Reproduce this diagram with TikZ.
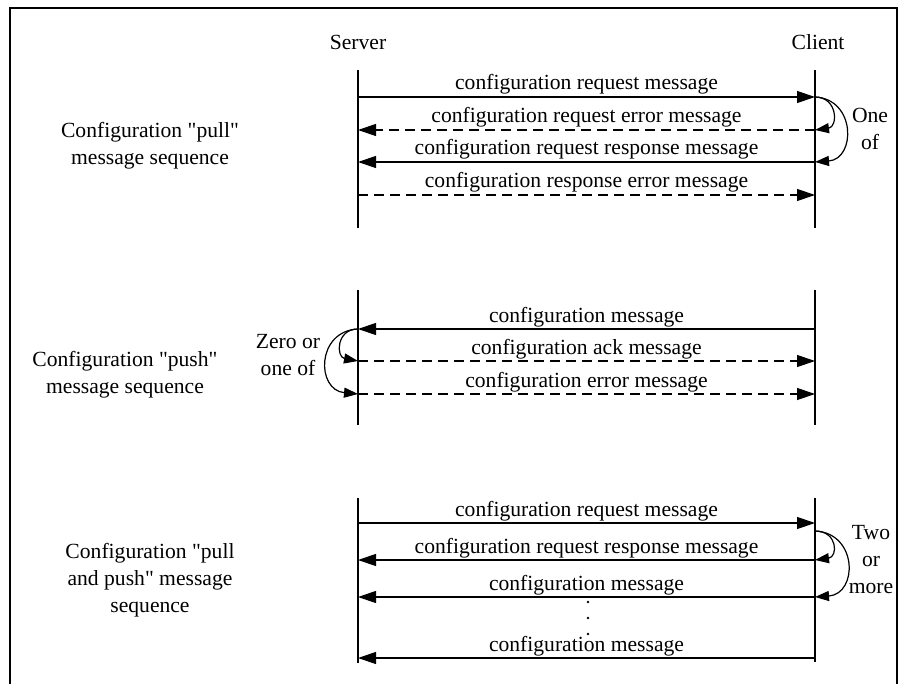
\documentclass[tikz,border=0pt]{standalone}
\usepackage{fontspec}
\setmainfont{Liberation Serif}
\usetikzlibrary{arrows.meta}
\tikzstyle{none}=[inner sep=0pt]
\tikzstyle{frame}=[line width=1.8pt]
\tikzstyle{life}=[line width=1.2pt]
\tikzstyle{msg}=[line width=1.2pt,-{Triangle[length=18pt,width=12pt]}]
\tikzstyle{rsp}=[msg,dash pattern=on 10pt off 6pt]
\tikzstyle{curl}=[line width=1.2pt,-{Triangle[length=14pt,width=10pt]}]
\tikzstyle{lbl}=[midway,anchor=base,yshift=7pt,inner sep=0pt]
\tikzstyle{txt}=[align=center,anchor=base,inner sep=0pt]
\tikzstyle{dot}=[circle,fill=black,inner sep=0pt,minimum size=2.6pt]
\newcommand{\qq}{\textquotedbl}

\begin{document}
\begin{tikzpicture}[x=1pt, y=-1pt, every node/.style={font=\fontsize{21.6}{27}\selectfont}]
            \useasboundingbox (0,0) rectangle (901,684);
            % frame
            \node [style=none] (0) at (10, 684) {};
            \node [style=none] (1) at (10, 8) {};
            \node [style=none] (2) at (897, 8) {};
            \node [style=none] (3) at (897, 684) {};
            \draw [style=frame] (0.center) to (1.center) to (2.center) to (3.center);
            \node [style=txt] (4) at (358, 50) {Server};
            \node [style=txt] (5) at (818, 50) {Client};
            % pull
            \node [style=none] (10) at (358, 70) {};
            \node [style=none] (11) at (358, 228) {};
            \node [style=none] (12) at (815, 70) {};
            \node [style=none] (13) at (815, 228) {};
            \draw [style=life] (10.center) to (11.center);
            \draw [style=life] (12.center) to (13.center);
            \node [style=none] (14) at (358, 97) {};
            \node [style=none] (15) at (815, 97) {};
            \node [style=none] (16) at (358, 130) {};
            \node [style=none] (17) at (815, 130) {};
            \node [style=none] (18) at (358, 162) {};
            \node [style=none] (19) at (815, 162) {};
            \node [style=none] (20) at (358, 195) {};
            \node [style=none] (21) at (815, 195) {};
            \draw [style=msg] (14.center) to node [style=lbl] {configuration request message} (15.center);
            \draw [style=rsp] (17.center) to node [style=lbl] {configuration request error message} (16.center);
            \draw [style=msg] (19.center) to node [style=lbl] {configuration request response message} (18.center);
            \draw [style=rsp] (20.center) to node [style=lbl] {configuration response error message} (21.center);
            \draw [style=curl] (15.center) .. controls (838, 97) and (838, 127) .. (17.center);
            \draw [style=curl] (15.center) .. controls (856, 99) and (856, 159) .. (19.center);
            \node [style=txt] (22) at (870, 150) {One\\of};
            \node [style=txt] (23) at (150, 165) {Configuration \qq pull\qq\\message sequence};
            % push
            \node [style=none] (30) at (358, 290) {};
            \node [style=none] (31) at (358, 425) {};
            \node [style=none] (32) at (815, 290) {};
            \node [style=none] (33) at (815, 425) {};
            \draw [style=life] (30.center) to (31.center);
            \draw [style=life] (32.center) to (33.center);
            \node [style=none] (34) at (358, 329) {};
            \node [style=none] (35) at (815, 329) {};
            \node [style=none] (36) at (358, 361) {};
            \node [style=none] (37) at (815, 361) {};
            \node [style=none] (38) at (358, 394) {};
            \node [style=none] (39) at (815, 394) {};
            \draw [style=msg] (35.center) to node [style=lbl] {configuration message} (34.center);
            \draw [style=rsp] (36.center) to node [style=lbl] {configuration ack message} (37.center);
            \draw [style=rsp] (38.center) to node [style=lbl] {configuration error message} (39.center);
            \draw [style=curl] (34.center) .. controls (336, 329) and (336, 357) .. (36.center);
            \draw [style=curl] (34.center) .. controls (316, 331) and (316, 390) .. (38.center);
            \node [style=txt] (40) at (288, 375) {Zero or\\one of};
            \node [style=txt] (41) at (125, 393) {Configuration \qq push\qq\\message sequence};
            % pull and push
            \node [style=none] (50) at (358, 498) {};
            \node [style=none] (51) at (358, 663) {};
            \node [style=none] (52) at (815, 498) {};
            \node [style=none] (53) at (815, 662) {};
            \draw [style=life] (50.center) to (51.center);
            \draw [style=life] (52.center) to (53.center);
            \node [style=none] (54) at (358, 523) {};
            \node [style=none] (55) at (815, 523) {};
            \node [style=none] (56) at (815, 531) {};
            \node [style=none] (57) at (358, 560) {};
            \node [style=none] (58) at (815, 560) {};
            \node [style=none] (59) at (358, 597) {};
            \node [style=none] (60) at (815, 597) {};
            \node [style=none] (61) at (358, 658) {};
            \node [style=none] (62) at (815, 658) {};
            \draw [style=msg] (54.center) to node [style=lbl] {configuration request message} (55.center);
            \draw [style=msg] (58.center) to node [style=lbl] {configuration request response message} (57.center);
            \draw [style=msg] (60.center) to node [style=lbl] {configuration message} (59.center);
            \draw [style=msg] (62.center) to node [style=lbl] {configuration message} (61.center);
            \draw [style=curl] (56.center) .. controls (838, 531) and (838, 557) .. (58.center);
            \draw [style=curl] (56.center) .. controls (858, 533) and (858, 594) .. (60.center);
            \node [style=dot] (63) at (588, 602) {};
            \node [style=dot] (64) at (588, 618) {};
            \node [style=dot] (65) at (588, 634) {};
            \node [style=txt] (66) at (871, 593) {Two\\or\\more};
            \node [style=txt] (67) at (150, 612) {Configuration \qq pull\\and push\qq{} message\\sequence};
    \end{tikzpicture}
\end{document}
